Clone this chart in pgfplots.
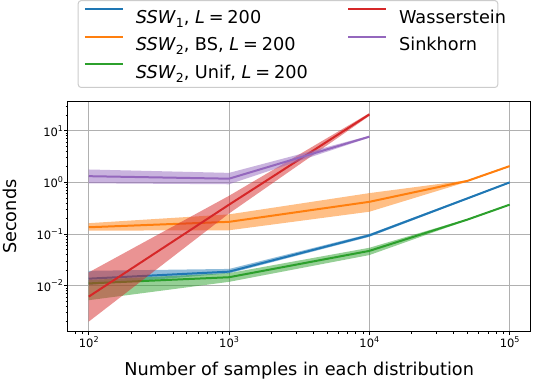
\documentclass[border=0pt]{standalone}
\usepackage{fontspec}
\setmainfont{DejaVu Sans}
\usepackage{pgfplots}
\pgfplotsset{compat=1.18}

\definecolor{tabblue}{HTML}{1F77B4}
\definecolor{taborange}{HTML}{FF7F0E}
\definecolor{tabgreen}{HTML}{2CA02C}
\definecolor{tabred}{HTML}{D62728}
\definecolor{tabpurple}{HTML}{9467BD}
\definecolor{gridgray}{HTML}{B0B0B0}
\definecolor{legframe}{HTML}{CCCCCC}

\newcommand\lab{\fontsize{17.7bp}{21bp}\selectfont}
\newcommand\tk{\fontsize{11.5bp}{14bp}\selectfont}
\newcommand\sups[1]{\raisebox{0.45em}{\fontsize{8bp}{9bp}\selectfont #1}}
\newcommand\subs[1]{\raisebox{-0.22em}{\fontsize{12.5bp}{14bp}\selectfont #1}}
% legend text cells: first column padded to the start of the second column
\newcommand\colA[1]{\makebox[211.2bp][l]{#1}}
\newcommand\colB[1]{\makebox[93bp][l]{#1}}
\newcommand\eq{\hspace{0.22em}=\hspace{0.22em}}

\pgfplotsset{
  band/.style={draw=none, fill=#1, fill opacity=0.5, forget plot},
  mean/.style={draw=#1, line width=2bp, forget plot},
}

\begin{document}
\begin{tikzpicture}
\begin{axis}[
  scale only axis, width=463bp, height=230bp,
  xmode=log, ymode=log,
  xmin=70.8, xmax=141254, ymin=0.001274, ymax=36.7,
  xtick={100,1000,10000,100000},
  xticklabels={10\sups{2},10\sups{3},10\sups{4},10\sups{5}},
  ytick={0.01,0.1,1,10},
  yticklabels={10\sups{−2},10\sups{−1},10\sups{0},10\sups{1}},
  minor xtick={80,90,200,300,400,500,600,700,800,900,2000,3000,4000,5000,6000,7000,8000,9000,20000,30000,40000,50000,60000,70000,80000,90000},
  minor ytick={0.002,0.003,0.004,0.005,0.006,0.007,0.008,0.009,0.02,0.03,0.04,0.05,0.06,0.07,0.08,0.09,0.2,0.3,0.4,0.5,0.6,0.7,0.8,0.9,2,3,4,5,6,7,8,9,20,30},
  tick align=outside, tick pos=left,
  major tick length=3.5bp, minor tick length=2bp,
  every tick/.style={black, line width=0.8bp},
  grid=major, major grid style={gridgray, line width=0.8bp},
  axis line style={black, line width=1bp},
  xticklabel style={font=\tk, anchor=north, inner sep=0bp, yshift=-1bp},
  yticklabel style={font=\tk, anchor=east, inner sep=0bp, xshift=-1bp},
  xlabel={Number of samples in each distribution},
  ylabel={Seconds},
  xlabel style={font=\lab, at={(axis description cs:0.5,0)}, anchor=base, yshift=-43.3bp},
  ylabel style={font=\lab, at={(axis description cs:-0.1102,0.5)}, anchor=base},
  legend columns=2,
  legend cell align=left,
  legend image code/.code={\path (0bp,0bp) (50.5bp,0bp); \draw[#1, line width=2bp] (0bp,7.5bp) -- (38bp,7.5bp);},
  legend style={
    at={(axis description cs:0.0216,1.0596)}, anchor=south west,
    draw=legframe, line width=1bp, rounded corners=3bp, fill=white,
    inner xsep=5.7bp, inner ysep=5bp, font=\lab, row sep=5bp, column sep=0bp,
    nodes={inner sep=0bp, text height=18bp, text depth=4.3bp},
    /tikz/every odd column/.style={column sep=0bp},
    /tikz/every even column/.style={column sep=0bp},
  },
]
% legend entries, ordered row by row
\addlegendimage{tabblue}
\addlegendentry{\colA{\textit{SSW}\subs{1}, \textit{L}\eq200}}
\addlegendimage{tabred}
\addlegendentry{\colB{Wasserstein}}
\addlegendimage{taborange}
\addlegendentry{\colA{\textit{SSW}\subs{2}, BS, \textit{L}\eq200}}
\addlegendimage{tabpurple}
\addlegendentry{\colB{Sinkhorn}}
\addlegendimage{tabgreen}
\addlegendentry{\colA{\textit{SSW}\subs{2}, Unif, \textit{L}\eq200}}

% SSW1, L=200
\addplot[band=tabblue] coordinates {(100,0.0193) (1000,0.021) (10000,0.1) (50000,0.51) (100000,1.03)
  (100000,0.97) (50000,0.47) (10000,0.088) (1000,0.0172) (100,0.0102)} --cycle;
\addplot[mean=tabblue] coordinates {(100,0.0136) (1000,0.0186) (10000,0.094) (50000,0.49) (100000,1.0)};

% SSW2, BS, L=200
\addplot[band=taborange] coordinates {(100,0.162) (1000,0.24) (10000,0.62) (50000,1.1) (100000,2.14)
  (100000,2.0) (50000,1.03) (10000,0.27) (1000,0.118) (100,0.116)} --cycle;
\addplot[mean=taborange] coordinates {(100,0.135) (1000,0.172) (10000,0.42) (50000,1.07) (100000,2.07)};

% SSW2, Unif, L=200
\addplot[band=tabgreen] coordinates {(100,0.0128) (1000,0.0174) (10000,0.054) (50000,0.196) (100000,0.38)
  (100000,0.36) (50000,0.185) (10000,0.039) (1000,0.0118) (100,0.0052)} --cycle;
\addplot[mean=tabgreen] coordinates {(100,0.011) (1000,0.0145) (10000,0.047) (50000,0.19) (100000,0.37)};

% Wasserstein
\addplot[band=tabred] coordinates {(100,0.018) (1000,0.55) (10000,22)
  (10000,19.5) (1000,0.25) (100,0.002)} --cycle;
\addplot[mean=tabred] coordinates {(100,0.0061) (1000,0.37) (10000,20.8)};

% Sinkhorn
\addplot[band=tabpurple] coordinates {(100,1.78) (1000,1.53) (10000,8.0)
  (10000,7.4) (1000,0.92) (100,0.96)} --cycle;
\addplot[mean=tabpurple] coordinates {(100,1.32) (1000,1.18) (10000,7.7)};

\coordinate (bl) at (rel axis cs:0,0);
\coordinate (tr) at (rel axis cs:1,1);
\end{axis}
\pgfresetboundingbox
\path[use as bounding box] ([shift={(-67.7bp,-48.3bp)}]bl) rectangle ([shift={(3.3bp,101.7bp)}]tr);
\end{tikzpicture}
\end{document}
